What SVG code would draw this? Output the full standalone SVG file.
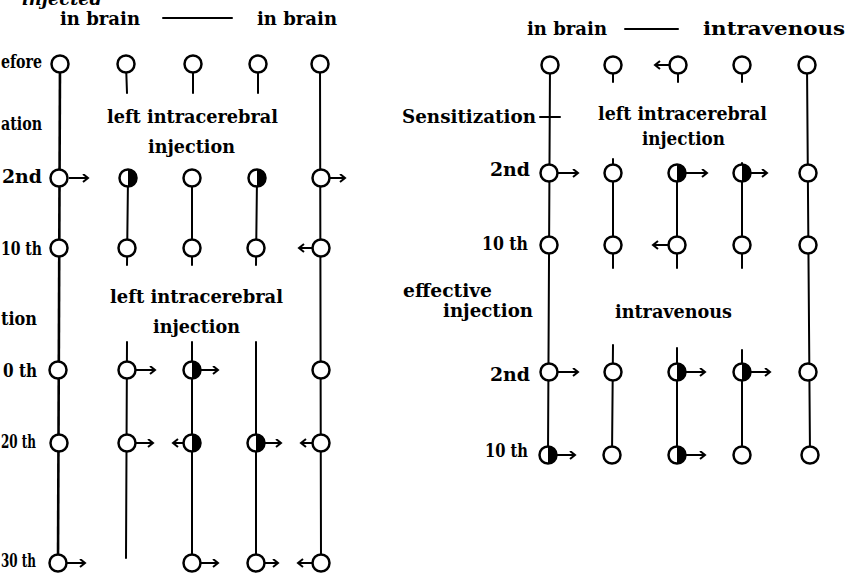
<svg xmlns="http://www.w3.org/2000/svg" width="847" height="575" viewBox="0 0 847 575">
<style>
.t{font-family:"DejaVu Serif",serif;font-size:18px;font-weight:bold;fill:#000}
.it{font-style:italic}
.ln{stroke:#000;stroke-width:2;fill:none;stroke-linecap:round}
.lnb{stroke:#000;stroke-width:2.6;fill:none}
.c{fill:#fff;stroke:#000;stroke-width:2.5}
.h{fill:#000}
.ar{stroke:#000;stroke-width:2;fill:none;marker-end:url(#ah)}
</style>
<defs>
<marker id="ah" markerUnits="userSpaceOnUse" markerWidth="10" markerHeight="10" refX="6" refY="4.5" orient="auto">
<path d="M1,0.5 L6,4.5 L1,8.5" fill="none" stroke="#000" stroke-width="2"/>
</marker>
</defs>
<rect width="847" height="575" fill="#fff"/>

<g id="labels">
<text class="t it" x="22" y="5" textLength="80" lengthAdjust="spacingAndGlyphs">injected</text>
<text class="t" x="60" y="25" textLength="80" lengthAdjust="spacingAndGlyphs">in brain</text>
<text class="t" x="257" y="25" textLength="80" lengthAdjust="spacingAndGlyphs">in brain</text>
<text class="t" x="1" y="68" textLength="41" lengthAdjust="spacingAndGlyphs">efore</text>
<text class="t" x="1" y="130" textLength="41" lengthAdjust="spacingAndGlyphs">ation</text>
<text class="t" x="107" y="123" textLength="171" lengthAdjust="spacingAndGlyphs">left intracerebral</text>
<text class="t" x="148" y="153" textLength="87" lengthAdjust="spacingAndGlyphs">injection</text>
<text class="t" x="2" y="183" textLength="40" lengthAdjust="spacingAndGlyphs">2nd</text>
<text class="t" x="1" y="255" textLength="41" lengthAdjust="spacingAndGlyphs">10 th</text>
<text class="t" x="110" y="303" textLength="173" lengthAdjust="spacingAndGlyphs">left intracerebral</text>
<text class="t" x="153" y="333" textLength="87" lengthAdjust="spacingAndGlyphs">injection</text>
<text class="t" x="1" y="325" textLength="36" lengthAdjust="spacingAndGlyphs">tion</text>
<text class="t" x="3" y="377" textLength="34" lengthAdjust="spacingAndGlyphs">0 th</text>
<text class="t" x="1" y="448" textLength="35" lengthAdjust="spacingAndGlyphs">20 th</text>
<text class="t" x="1" y="567" textLength="35" lengthAdjust="spacingAndGlyphs">30 th</text>

<text class="t" x="527" y="35" textLength="80" lengthAdjust="spacingAndGlyphs">in brain</text>
<text class="t" x="703" y="35" textLength="142" lengthAdjust="spacingAndGlyphs">intravenous</text>
<text class="t" x="402" y="123" textLength="134" lengthAdjust="spacingAndGlyphs">Sensitization</text>
<text class="t" x="598" y="120" textLength="169" lengthAdjust="spacingAndGlyphs">left intracerebral</text>
<text class="t" x="642" y="145" textLength="83" lengthAdjust="spacingAndGlyphs">injection</text>
<text class="t" x="490" y="176" textLength="40" lengthAdjust="spacingAndGlyphs">2nd</text>
<text class="t" x="482" y="250" textLength="46" lengthAdjust="spacingAndGlyphs">10 th</text>
<text class="t" x="403" y="297" textLength="89" lengthAdjust="spacingAndGlyphs">effective</text>
<text class="t" x="443" y="317" textLength="90" lengthAdjust="spacingAndGlyphs">injection</text>
<text class="t" x="615" y="318" textLength="117" lengthAdjust="spacingAndGlyphs">intravenous</text>
<text class="t" x="490" y="381" textLength="40" lengthAdjust="spacingAndGlyphs">2nd</text>
<text class="t" x="485" y="457" textLength="43" lengthAdjust="spacingAndGlyphs">10 th</text>
</g>

<g id="connectors">
<line class="ln" x1="163" y1="18" x2="232" y2="18"/>
<line class="ln" x1="625" y1="29" x2="678" y2="29"/>
<line class="ln" x1="540" y1="117" x2="560" y2="117"/>
<line class="lnb" x1="60" y1="64" x2="58" y2="563"/>
<line class="ln" x1="126" y1="64" x2="127" y2="93"/>
<line class="ln" x1="193" y1="64" x2="193" y2="93"/>
<line class="ln" x1="258" y1="64" x2="258" y2="93"/>
<line class="ln" x1="320" y1="64" x2="321" y2="563"/>
<line class="ln" x1="128" y1="178" x2="127" y2="265"/>
<line class="ln" x1="192" y1="178" x2="192" y2="265"/>
<line class="ln" x1="257" y1="178" x2="256" y2="265"/>
<line class="ln" x1="127" y1="342" x2="126" y2="558"/>
<line class="ln" x1="192" y1="342" x2="192" y2="563"/>
<line class="ln" x1="256" y1="342" x2="256" y2="563"/>
<line class="ln" x1="550" y1="65" x2="548" y2="455"/>
<line class="ln" x1="613" y1="65" x2="613" y2="82"/>
<line class="ln" x1="678" y1="65" x2="678" y2="82"/>
<line class="ln" x1="742" y1="65" x2="742" y2="82"/>
<line class="ln" x1="807" y1="65" x2="810" y2="455"/>
<line class="ln" x1="613" y1="159" x2="613" y2="268"/>
<line class="ln" x1="677" y1="165" x2="677" y2="268"/>
<line class="ln" x1="742" y1="163" x2="742" y2="268"/>
<line class="ln" x1="613" y1="345" x2="612" y2="455"/>
<line class="ln" x1="677" y1="348" x2="677" y2="455"/>
<line class="ln" x1="742" y1="350" x2="742" y2="455"/>
<line class="ar" x1="69" y1="178" x2="88" y2="178"/>
<line class="ar" x1="330" y1="178" x2="345" y2="178"/>
<line class="ar" x1="312" y1="248" x2="299" y2="248"/>
<line class="ar" x1="136" y1="370" x2="155" y2="370"/>
<line class="ar" x1="201" y1="370" x2="218" y2="370"/>
<line class="ar" x1="136" y1="443" x2="153" y2="443"/>
<line class="ar" x1="183" y1="443" x2="173" y2="443"/>
<line class="ar" x1="265" y1="443" x2="281" y2="443"/>
<line class="ar" x1="312" y1="443" x2="301" y2="443"/>
<line class="ar" x1="67" y1="563" x2="85" y2="563"/>
<line class="ar" x1="201" y1="563" x2="218" y2="563"/>
<line class="ar" x1="265" y1="563" x2="278" y2="563"/>
<line class="ar" x1="312" y1="563" x2="298" y2="563"/>
<line class="ar" x1="669" y1="65" x2="655" y2="65"/>
<line class="ar" x1="558" y1="173" x2="578" y2="173"/>
<line class="ar" x1="686" y1="173" x2="707" y2="173"/>
<line class="ar" x1="751" y1="173" x2="767" y2="173"/>
<line class="ar" x1="668" y1="245" x2="653" y2="245"/>
<line class="ar" x1="558" y1="372" x2="578" y2="372"/>
<line class="ar" x1="686" y1="372" x2="705" y2="372"/>
<line class="ar" x1="751" y1="372" x2="770" y2="372"/>
<line class="ar" x1="557" y1="455" x2="575" y2="455"/>
<line class="ar" x1="686" y1="455" x2="705" y2="455"/>
</g>

<g id="L1a"><circle class="c" cx="60" cy="64" r="8.5"/></g>
<g id="L2a"><circle class="c" cx="126" cy="64" r="8.5"/></g>
<g id="L3a"><circle class="c" cx="193" cy="64" r="8.5"/></g>
<g id="L4a"><circle class="c" cx="258" cy="64" r="8.5"/></g>
<g id="L5a"><circle class="c" cx="320" cy="64" r="8.5"/></g>
<g id="L1b"><circle class="c" cx="59" cy="178" r="8.5"/></g>
<g id="L2b"><circle class="c" cx="128" cy="178" r="8.5"/><path class="h" d="M128,169.5 A8.5,8.5 0 0 1 128,186.5 Z"/></g>
<g id="L3b"><circle class="c" cx="192" cy="178" r="8.5"/></g>
<g id="L4b"><circle class="c" cx="257" cy="178" r="8.5"/><path class="h" d="M257,169.5 A8.5,8.5 0 0 1 257,186.5 Z"/></g>
<g id="L5b"><circle class="c" cx="321" cy="178" r="8.5"/></g>
<g id="L1c"><circle class="c" cx="59" cy="248" r="8.5"/></g>
<g id="L2c"><circle class="c" cx="127" cy="248" r="8.5"/></g>
<g id="L3c"><circle class="c" cx="192" cy="248" r="8.5"/></g>
<g id="L4c"><circle class="c" cx="256" cy="248" r="8.5"/></g>
<g id="L5c"><circle class="c" cx="321" cy="248" r="8.5"/></g>
<g id="L1d"><circle class="c" cx="58" cy="370" r="8.5"/></g>
<g id="L2d"><circle class="c" cx="127" cy="370" r="8.5"/></g>
<g id="L3d"><circle class="c" cx="192" cy="370" r="8.5"/><path class="h" d="M192,361.5 A8.5,8.5 0 0 1 192,378.5 Z"/></g>
<g id="L5d"><circle class="c" cx="321" cy="370" r="8.5"/></g>
<g id="L1e"><circle class="c" cx="59" cy="443" r="8.5"/></g>
<g id="L2e"><circle class="c" cx="127" cy="443" r="8.5"/></g>
<g id="L3e"><circle class="c" cx="192" cy="443" r="8.5"/><path class="h" d="M192,434.5 A8.5,8.5 0 0 1 192,451.5 Z"/></g>
<g id="L4e"><circle class="c" cx="256" cy="443" r="8.5"/><path class="h" d="M256,434.5 A8.5,8.5 0 0 1 256,451.5 Z"/></g>
<g id="L5e"><circle class="c" cx="321" cy="443" r="8.5"/></g>
<g id="L1f"><circle class="c" cx="58" cy="563" r="8.5"/></g>
<g id="L3f"><circle class="c" cx="192" cy="563" r="8.5"/></g>
<g id="L4f"><circle class="c" cx="256" cy="563" r="8.5"/></g>
<g id="L5f"><circle class="c" cx="321" cy="563" r="8.5"/></g>

<g id="R1a"><circle class="c" cx="550" cy="65" r="8.5"/></g>
<g id="R2a"><circle class="c" cx="613" cy="65" r="8.5"/></g>
<g id="R3a"><circle class="c" cx="678" cy="65" r="8.5"/></g>
<g id="R4a"><circle class="c" cx="742" cy="65" r="8.5"/></g>
<g id="R5a"><circle class="c" cx="807" cy="65" r="8.5"/></g>
<g id="R1b"><circle class="c" cx="549" cy="173" r="8.5"/></g>
<g id="R2b"><circle class="c" cx="613" cy="173" r="8.5"/></g>
<g id="R3b"><circle class="c" cx="677" cy="173" r="8.5"/><path class="h" d="M677,164.5 A8.5,8.5 0 0 1 677,181.5 Z"/></g>
<g id="R4b"><circle class="c" cx="742" cy="173" r="8.5"/><path class="h" d="M742,164.5 A8.5,8.5 0 0 1 742,181.5 Z"/></g>
<g id="R5b"><circle class="c" cx="808" cy="173" r="8.5"/></g>
<g id="R1c"><circle class="c" cx="549" cy="245" r="8.5"/></g>
<g id="R2c"><circle class="c" cx="613" cy="245" r="8.5"/></g>
<g id="R3c"><circle class="c" cx="677" cy="245" r="8.5"/></g>
<g id="R4c"><circle class="c" cx="742" cy="245" r="8.5"/></g>
<g id="R5c"><circle class="c" cx="808" cy="245" r="8.5"/></g>
<g id="R1d"><circle class="c" cx="549" cy="372" r="8.5"/></g>
<g id="R2d"><circle class="c" cx="613" cy="372" r="8.5"/></g>
<g id="R3d"><circle class="c" cx="677" cy="372" r="8.5"/><path class="h" d="M677,363.5 A8.5,8.5 0 0 1 677,380.5 Z"/></g>
<g id="R4d"><circle class="c" cx="742" cy="372" r="8.5"/><path class="h" d="M742,363.5 A8.5,8.5 0 0 1 742,380.5 Z"/></g>
<g id="R5d"><circle class="c" cx="808" cy="372" r="8.5"/></g>
<g id="R1e"><circle class="c" cx="548" cy="455" r="8.5"/><path class="h" d="M548,446.5 A8.5,8.5 0 0 1 548,463.5 Z"/></g>
<g id="R2e"><circle class="c" cx="612" cy="455" r="8.5"/></g>
<g id="R3e"><circle class="c" cx="677" cy="455" r="8.5"/><path class="h" d="M677,446.5 A8.5,8.5 0 0 1 677,463.5 Z"/></g>
<g id="R4e"><circle class="c" cx="742" cy="455" r="8.5"/></g>
<g id="R5e"><circle class="c" cx="810" cy="455" r="8.5"/></g>
</svg>
